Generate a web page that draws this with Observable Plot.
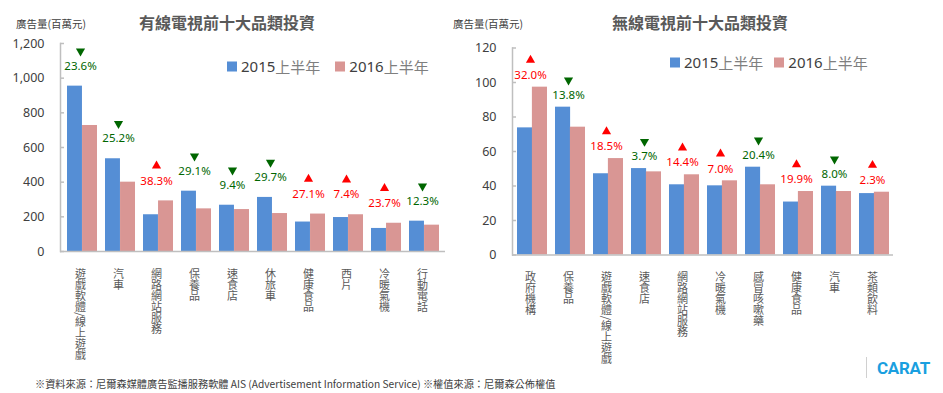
<!DOCTYPE html>
<html><head><meta charset="utf-8">
<script src="https://cdn.jsdelivr.net/npm/d3@7"></script>
<script src="https://cdn.jsdelivr.net/npm/@observablehq/plot@0.6"></script>
<style>
body{margin:0;background:#fff;font-family:"Noto Sans","Noto Sans CJK TC",sans-serif;}
#wrap{position:relative;width:943px;height:393px;overflow:hidden;background:#fff;}
.abs{position:absolute;white-space:nowrap;line-height:1;}
.title{font-size:16px;font-weight:bold;color:#595959;font-family:"Noto Sans CJK TC",sans-serif;transform:translate(-50%,-50%);}
.ytitle{font-size:10.5px;color:#404040;font-family:"Noto Sans CJK TC",sans-serif;transform:translateY(-50%);}
.leg{font-size:15px;color:#404040;transform:translateY(-50%);display:flex;align-items:center;}
.leg .sw{display:inline-block;width:10px;height:10px;margin-right:4px;}
.leg .cjk{color:#7f7f7f;font-family:"Noto Sans CJK TC",sans-serif;}
.leg .item{display:flex;align-items:center;}
.foot{font-size:10.2px;color:#404040;font-family:"Noto Sans CJK TC",sans-serif;transform:translateY(-50%);}
.carat{font-size:17px;font-weight:bold;color:#1a9fe0;font-family:Roboto,sans-serif;transform:translateY(-50%);letter-spacing:-0.3px;}
svg{position:absolute;top:0;}
text.vlab{writing-mode:vertical-rl;}
</style></head><body><div id="wrap"></div>
<script>
// ---- data ----
const seriesNames = ["2015上半年", "2016上半年"];

const cableTitle = "有線電視前十大品類投資";
const cableCats = ["遊戲軟體/線上遊戲","汽車","網路網站服務","保養品","速食店","休旅車","健康食品","西片","冷暖氣機","行動電話"];
const cable2015 = [954, 535, 212, 348, 267, 312, 170, 196, 133, 175];
const cable2016 = [727, 400, 292, 246, 242, 219, 216, 212, 163, 152];
const cablePct  = [23.6, 25.2, 38.3, 29.1, 9.4, 29.7, 27.1, 7.4, 23.7, 12.3];
const cableTicks = [0, 200, 400, 600, 800, 1000, 1200];

const tvTitle = "無線電視前十大品類投資";
const tvCats = ["政府機構","保養品","遊戲軟體/線上遊戲","速食店","網路網站服務","冷暖氣機","感冒咳嗽藥","健康食品","汽車","茶類飲料"];
const tv2015 = [73.7, 85.7, 47.1, 50.1, 40.7, 40.1, 50.9, 30.7, 39.9, 35.6];
const tv2016 = [97.3, 74.1, 55.9, 48.2, 46.5, 43.0, 40.7, 36.8, 36.8, 36.4];
const tvPct  = [32.0, 13.8, 18.5, 3.7, 14.4, 7.0, 20.4, 19.9, 8.0, 2.3];
const tvTicks = [0, 20, 40, 60, 80, 100, 120];

const yTitle = "廣告量(百萬元)";
const footText = "※資料來源：尼爾森媒體廣告監播服務軟體 AIS (Advertisement Information Service) ※權值來源：尼爾森公佈權值";
const brand = "CARAT";

// ---- styles ----
const BLUE = "#558ed5", PINK = "#d99694", AX = "#bfbfbf", RED = "#ff0000", GREEN = "#006600";

function drawChart({cats, a, b, pct, ticks, tickFmt, width, height, mL, mR, mT, mB, labelOff}) {
  const rows = cats.map((c, i) => ({cat: c, a: a[i], b: b[i], pct: pct[i], up: b[i] > a[i], top: Math.max(a[i], b[i])}));
  const pI = 0.22, pO = 0.1;
  const step = (width - mL - mR) / (cats.length - pI + 2 * pO);
  const half = step * (1 - pI) / 2;
  const svg = Plot.plot({
    width, height, marginLeft: mL, marginRight: mR, marginTop: mT, marginBottom: mB,
    style: {fontFamily: '"Noto Sans","Noto Sans CJK TC",sans-serif', fontSize: "12px", color: "#404040", background: "transparent", overflow: "visible"},
    x: {domain: cats, paddingInner: pI, paddingOuter: pO, axis: null},
    y: {domain: [0, ticks[ticks.length - 1]], axis: null},
    marks: [
      Plot.barY(rows, {x: "cat", y: "a", fill: BLUE, insetRight: half}),
      Plot.barY(rows, {x: "cat", y: "b", fill: PINK, insetLeft: half}),
      Plot.ruleY([0], {stroke: AX, strokeWidth: 1.5}),
      Plot.frame({anchor: "left", stroke: AX, strokeWidth: 1.5}),
      Plot.axisY({ticks, tickSize: 0, tickPadding: 16, tickFormat: tickFmt, label: null, fontSize: 12.5, fill: "#404040"}),
      Plot.axisY({ticks, tickSize: -4, tickFormat: () => "", label: null, stroke: AX, strokeWidth: 1.5}),
      Plot.text(rows, {x: "cat", text: "cat", frameAnchor: "bottom", dy: 9, dx: -2, textAnchor: "start", lineAnchor: "top", fontSize: 11, fill: "#595959"}),
      Plot.text(rows, {x: "cat", y: "top", text: d => d.pct.toFixed(1) + "%", dy: -labelOff, dx: -2, fill: d => d.up ? RED : GREEN, fontSize: 11.5}),
      Plot.dot(rows, {x: "cat", y: "top", dy: -labelOff - 15, dx: -2, symbol: "triangle", r: 3.4, fill: d => d.up ? RED : GREEN, stroke: null, rotate: d => d.up ? 0 : 180})
    ]
  });
  d3.select(svg).selectAll("text")
    .filter(function() { return cats.includes(this.textContent); })
    .classed("vlab", true)
    .attr("writing-mode", "vertical-rl")
    .attr("dy", null)
    .style("writing-mode", "vertical-rl")
    .style("font-family", '"Noto Sans CJK TC",sans-serif');
  return svg;
}

const wrap = document.getElementById("wrap");
const fmtComma = d3.format(",");

const left = drawChart({cats: cableCats, a: cable2015, b: cable2016, pct: cablePct, ticks: cableTicks, tickFmt: fmtComma,
  width: 470, height: 360, mL: 60, mR: 25, mT: 43, mB: 109, labelOff: 20});
left.style.left = "0px";
wrap.appendChild(left);

const right = drawChart({cats: tvCats, a: tv2015, b: tv2016, pct: tvPct, ticks: tvTicks, tickFmt: d => String(d),
  width: 473, height: 360, mL: 42, mR: 50, mT: 47.5, mB: 105.5, labelOff: 12});
right.style.left = "470px";
wrap.appendChild(right);

function addDiv(cls, x, y, html) {
  const d = document.createElement("div");
  d.className = "abs " + cls;
  d.style.left = x + "px"; d.style.top = y + "px";
  d.innerHTML = html;
  wrap.appendChild(d);
  return d;
}
addDiv("title", 227, 22, cableTitle);
addDiv("title", 700, 22, tvTitle);
addDiv("ytitle", 16, 24, yTitle);
addDiv("ytitle", 453, 24, yTitle);

function legendHTML(gap) {
  const cols = [BLUE, PINK];
  return seriesNames.map((s, i) => {
    const m = s.match(/^(\d+)(.*)$/);
    return `<span class="item" style="margin-right:${i === 0 ? gap : 0}px"><span class="sw" style="background:${cols[i]}"></span><span>${m[1]}</span><span class="cjk">${m[2]}</span></span>`;
  }).join("");
}
addDiv("leg", 227, 66, legendHTML(15));
addDiv("leg", 670, 62, legendHTML(11));

addDiv("foot", 35, 384, footText);
addDiv("carat", 877, 368, brand);
const sep = document.createElement("div");
sep.style.cssText = "position:absolute;left:866px;top:357px;width:1px;height:21px;background:#d0d0d0;";
wrap.appendChild(sep);
</script>
</body></html>
